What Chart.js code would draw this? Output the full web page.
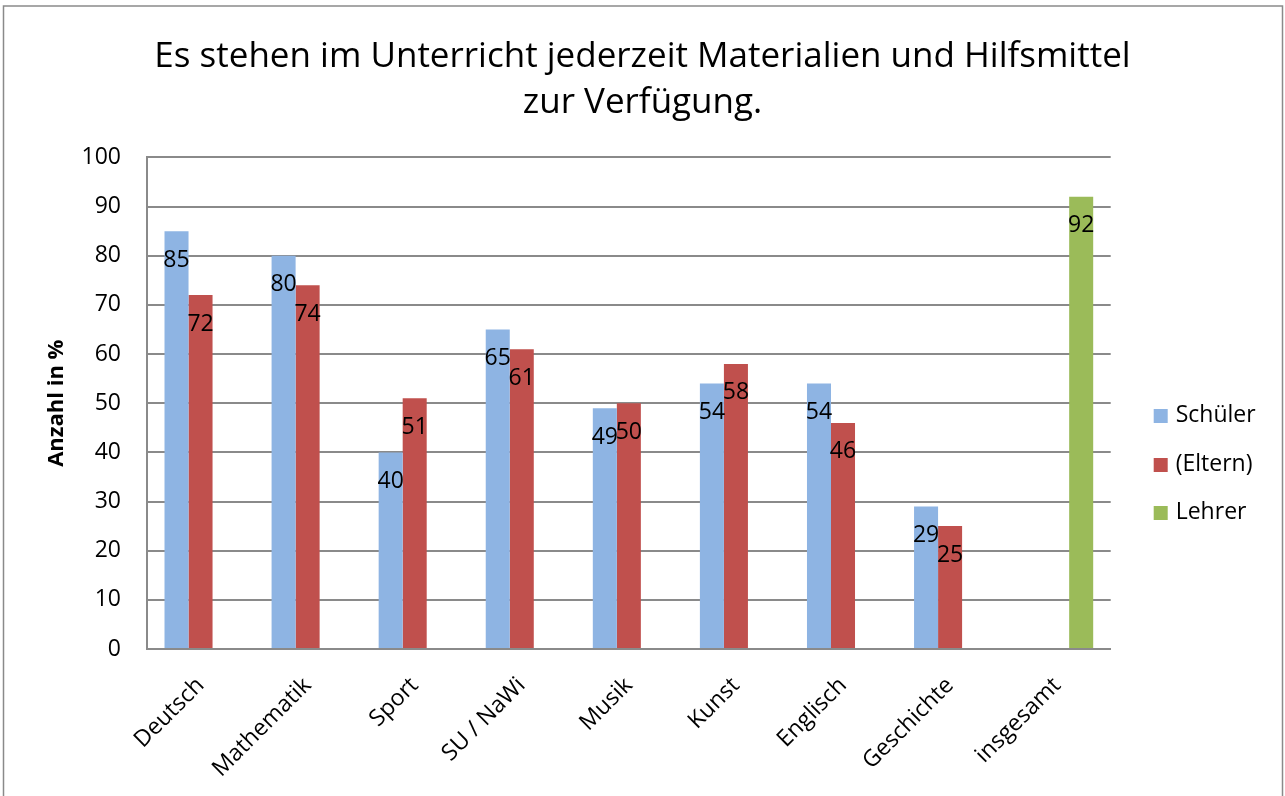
<!DOCTYPE html>
<html>
<head>
<meta charset="utf-8">
<script src="https://cdn.jsdelivr.net/npm/chart.js@4.4.1/dist/chart.umd.min.js"></script>
<style>
html,body{margin:0;padding:0;background:#fff;}
#wrap{width:1285px;height:796px;position:relative;}
</style>
</head>
<body>
<div id="wrap"><canvas id="c" width="1285" height="796"></canvas></div>
<script>
const categories = ["Deutsch","Mathematik","Sport","SU / NaWi","Musik","Kunst","Englisch","Geschichte","insgesamt"];
const schueler = [85, 80, 40, 65, 49, 54, 54, 29, null];
const eltern   = [72, 74, 51, 61, 50, 58, 46, 25, null];
const lehrer   = [null, null, null, null, null, null, null, null, 92];
const seriesNames = ["Schüler", "(Eltern)", "Lehrer"];
const titleLines = ["Es stehen im Unterricht jederzeit Materialien und Hilfsmittel", "zur Verfügung."];
const yTitle = "Anzahl in %";

const FONT = "'Open Sans', sans-serif";
const GRID = '#8a8a8a';

const frame = {
  id: 'frame',
  beforeDraw(chart) {
    const ctx = chart.ctx;
    ctx.save();
    ctx.fillStyle = '#fff';
    ctx.fillRect(0, 0, chart.width, chart.height);
    ctx.strokeStyle = GRID;
    ctx.lineWidth = 1.5;
    ctx.strokeRect(3.5, 6, 1279, 800);
    ctx.restore();
  }
};

const valueLabels = {
  id: 'valueLabels',
  afterDatasetsDraw(chart) {
    const ctx = chart.ctx;
    ctx.save();
    ctx.font = "23px " + FONT;
    ctx.fillStyle = '#000';
    ctx.textAlign = 'center';
    ctx.textBaseline = 'middle';
    chart.data.datasets.forEach((ds, i) => {
      const meta = chart.getDatasetMeta(i);
      meta.data.forEach((el, j) => {
        const v = ds.data[j];
        if (v === null || v === undefined) return;
        ctx.fillText(String(v), el.x, el.y + 29);
      });
    });
    ctx.restore();
  }
};

const sideLegend = {
  id: 'sideLegend',
  afterDraw(chart) {
    const ctx = chart.ctx;
    const x0 = chart.chartArea.right + 43;
    const ys = [416, 465, 513];
    ctx.save();
    ctx.font = "23px " + FONT;
    ctx.textBaseline = 'middle';
    ctx.textAlign = 'left';
    chart.data.datasets.forEach((ds, i) => {
      ctx.fillStyle = ds.backgroundColor;
      ctx.fillRect(x0, ys[i] - 7, 14, 14);
      ctx.fillStyle = '#000';
      ctx.fillText(ds.label, x0 + 22, ys[i] - 1);
    });
    ctx.restore();
  }
};

new Chart(document.getElementById('c'), {
  type: 'bar',
  data: {
    labels: categories,
    datasets: [
      { label: seriesNames[0], data: schueler, backgroundColor: '#8EB4E3' },
      { label: seriesNames[1], data: eltern,   backgroundColor: '#C0504D' },
      { label: seriesNames[2], data: lehrer,   backgroundColor: '#9BBB59' }
    ]
  },
  options: {
    responsive: false,
    animation: false,
    layout: { padding: 0 },
    datasets: { bar: { categoryPercentage: 0.673, barPercentage: 1.0, grouped: true } },
    plugins: {
      legend: { display: false },
      tooltip: { enabled: false },
      title: {
        display: true,
        text: titleLines,
        color: '#000',
        font: { family: FONT, size: 35, weight: 'normal', lineHeight: 1.314 },
        padding: { top: 34.5, bottom: 31 }
      }
    },
    scales: {
      x: {
        grid: { display: false, drawTicks: false },
        border: { display: true, color: GRID, width: 2 },
        ticks: {
          color: '#000',
          font: { family: FONT, size: 23 },
          minRotation: 45, maxRotation: 45,
          padding: 23,
          autoSkip: false
        },
        afterFit(scale) { scale.height = 147; }
      },
      y: {
        min: 0, max: 100,
        ticks: {
          stepSize: 10,
          color: '#000',
          font: { family: FONT, size: 23 },
          padding: 26
        },
        grid: { color: GRID, lineWidth: 2, drawTicks: false },
        border: { display: true, color: GRID, width: 2 },
        title: {
          display: true,
          text: yTitle,
          color: '#000',
          font: { family: FONT, size: 22, weight: 'bold' },
          padding: { top: 44, bottom: 0 }
        },
        afterFit(scale) { scale.width = 147; }
      },
      legendSpace: {
        type: 'linear',
        position: 'right',
        display: true,
        ticks: { display: false },
        grid: { display: false, drawTicks: false },
        border: { display: false },
        afterFit(scale) { scale.width = 174.3; }
      }
    }
  },
  plugins: [frame, valueLabels, sideLegend]
});
</script>
</body>
</html>
